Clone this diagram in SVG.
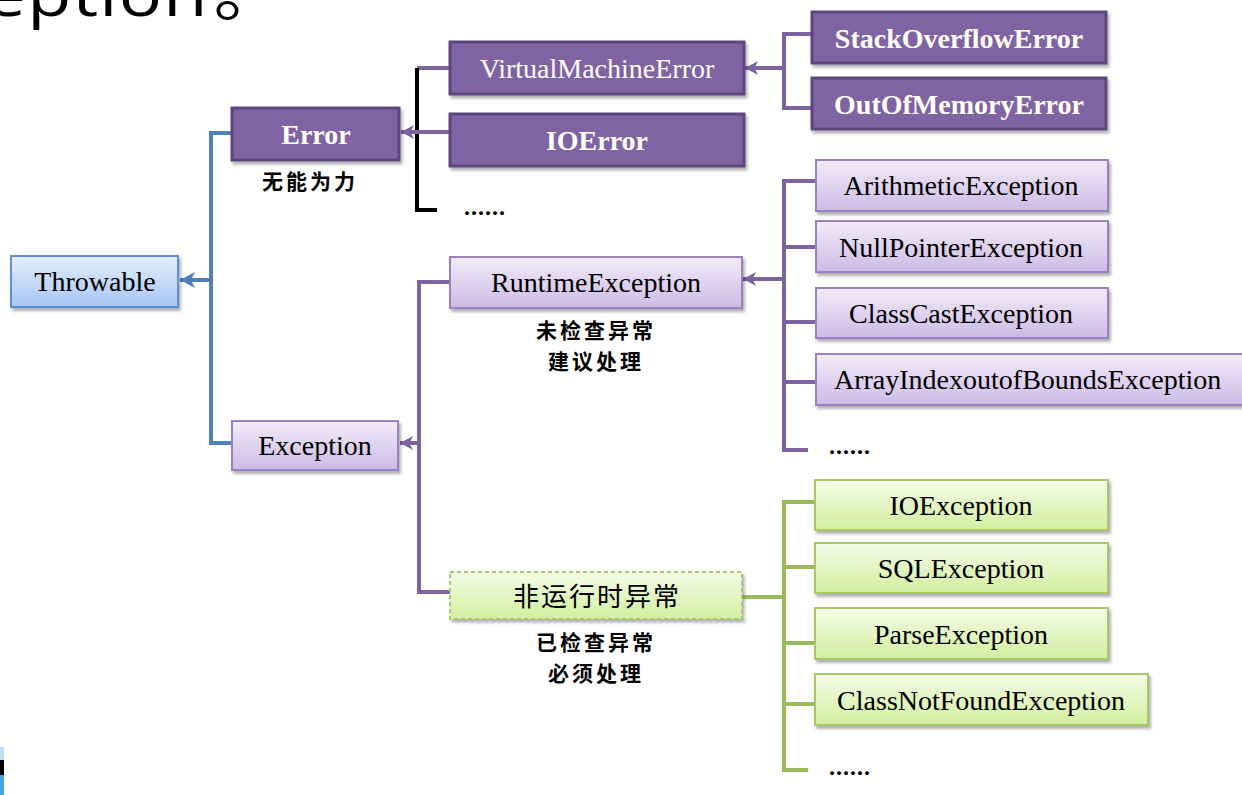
<svg xmlns="http://www.w3.org/2000/svg" width="1242" height="795" viewBox="0 0 1242 795">
<defs>
<linearGradient id="gBlue" x1="0" y1="0" x2="0" y2="1"><stop offset="0" stop-color="#e4eefc"/><stop offset="1" stop-color="#a6c6f4"/></linearGradient>
<linearGradient id="gPurple" x1="0" y1="0" x2="0" y2="1"><stop offset="0" stop-color="#f1ecf8"/><stop offset="1" stop-color="#ccbbe6"/></linearGradient>
<linearGradient id="gGreen" x1="0" y1="0" x2="0" y2="1"><stop offset="0" stop-color="#f4fbe8"/><stop offset="1" stop-color="#d2ef9f"/></linearGradient>
<filter id="sh" x="-10%" y="-20%" width="120%" height="150%"><feDropShadow dx="2" dy="3" stdDeviation="1.5" flood-color="#000" flood-opacity="0.3"/></filter>
<marker id="aBlue" markerUnits="userSpaceOnUse" markerWidth="18" markerHeight="18" refX="17" refY="9" orient="auto" viewBox="0 0 18 18"><path d="M17,9 L2,1 L6,9 L2,17 Z" fill="#4f81bd"/></marker>
<marker id="aPur" markerUnits="userSpaceOnUse" markerWidth="16" markerHeight="16" refX="15" refY="8" orient="auto" viewBox="0 0 16 16"><path d="M15,8 L2,1 L5.5,8 L2,15 Z" fill="#7e63a1"/></marker>
</defs>
<style>
.cb{fill:none;stroke:#4f81bd;stroke-width:4}
.cp{fill:none;stroke:#7e63a1;stroke-width:4}
.ck{fill:none;stroke:#000;stroke-width:4}
.cg{fill:none;stroke:#9bbb59;stroke-width:4}
.nBlue{fill:url(#gBlue);stroke:#5b8ed4;stroke-width:2;filter:url(#sh)}
.nDark{fill:#8064a2;stroke:#5c477c;stroke-width:3;filter:url(#sh)}
.nLight{fill:url(#gPurple);stroke:#9a80c0;stroke-width:2;filter:url(#sh)}
.nGreen{fill:url(#gGreen);stroke:#a4c86a;stroke-width:2;filter:url(#sh)}
.nDash{fill:url(#gGreen);stroke:#a4c86a;stroke-width:2;stroke-dasharray:4 3;filter:url(#sh)}
.t{font-family:"Liberation Serif","Times New Roman",serif;font-size:28px;fill:#000;text-anchor:middle}
.tw{font-family:"Liberation Serif","Times New Roman",serif;font-size:28px;fill:#fff;text-anchor:middle}
.twb{font-family:"Liberation Serif","Times New Roman",serif;font-size:28px;font-weight:bold;fill:#fff;text-anchor:middle}
.lab{font-family:"Noto Sans CJK SC",sans-serif;font-size:21px;font-weight:bold;fill:#000;text-anchor:middle;letter-spacing:3px}
.cn{font-family:"Noto Sans CJK SC",sans-serif;font-size:26px;fill:#000;text-anchor:middle;letter-spacing:2px}
.dots{font-family:"Liberation Serif",serif;font-size:24px;font-weight:bold;fill:#000;letter-spacing:1px}
</style>
<rect width="1242" height="795" fill="#fff"/>
<text transform="scale(1.2,1)" x="-12" y="16" font-family="'Open Sans','Noto Sans','Noto Sans CJK SC',sans-serif" font-size="60" letter-spacing="1" fill="#000">eption<tspan x="178">。</tspan></text>
<rect x="0" y="747" width="4" height="13" fill="#bfe0f0"/>
<rect x="0" y="760" width="4" height="15" fill="#000"/>
<rect x="0" y="775" width="4" height="20" fill="#4aa8d8"/>

<g id="connectors">
<path class="cb" d="M232,133 H211 V443 H232"/>
<path class="cb" d="M211,280 H180" marker-end="url(#aBlue)"/>
<path class="cp" d="M450,68 H417"/>
<path class="ck" d="M417,68 V210 H437"/>
<path class="cp" d="M450,132 H401" marker-end="url(#aPur)"/>
<path class="cp" d="M812,34 H784 V108 H812"/>
<path class="cp" d="M784,68 H745" marker-end="url(#aPur)"/>
<path class="cp" d="M450,282 H419 V592 H450"/>
<path class="cp" d="M419,443 H400" marker-end="url(#aPur)"/>
<path class="cp" d="M816,181 H784 V450 H808 M784,247 H816 M784,322 H816 M784,382 H816"/>
<path class="cp" d="M784,279 H743" marker-end="url(#aPur)"/>
<path class="cg" d="M742,597 H784"/>
<path class="cg" d="M815,502 H784 V770 H808 M784,567 H815 M784,643 H815 M784,704 H815"/>
</g>

<g id="throwable"><rect class="nBlue" x="11" y="256" width="167" height="51"/><text class="t" x="95" y="291">Throwable</text></g>
<g id="error"><rect class="nDark" x="232" y="108" width="167" height="52"/><text class="twb" x="316" y="144">Error</text><text class="lab" x="310" y="189">无能为力</text></g>
<g id="vme"><rect class="nDark" x="450" y="42" width="294" height="52"/><text class="tw" x="597" y="78">VirtualMachineError</text></g>
<g id="ioerror"><rect class="nDark" x="450" y="114" width="294" height="52"/><text class="twb" x="597" y="150">IOError</text></g>
<g id="error-more"><text class="dots" x="464" y="215">......</text></g>
<g id="stackoverflow"><rect class="nDark" x="812" y="12" width="294" height="51"/><text class="twb" x="959" y="48">StackOverflowError</text></g>
<g id="oom"><rect class="nDark" x="812" y="78" width="294" height="51"/><text class="twb" x="959" y="114">OutOfMemoryError</text></g>
<g id="exception"><rect class="nLight" x="232" y="421" width="166" height="49"/><text class="t" x="315" y="455">Exception</text></g>
<g id="runtime"><rect class="nLight" x="450" y="257" width="292" height="51"/><text class="t" x="596" y="292">RuntimeException</text><text class="lab" x="596" y="338">未检查异常</text><text class="lab" x="596" y="369">建议处理</text></g>
<g id="arith"><rect class="nLight" x="816" y="160" width="292" height="51"/><text class="t" x="961" y="195">ArithmeticException</text></g>
<g id="npe"><rect class="nLight" x="816" y="221" width="292" height="51"/><text class="t" x="961" y="257">NullPointerException</text></g>
<g id="cce"><rect class="nLight" x="816" y="288" width="292" height="50"/><text class="t" x="961" y="323">ClassCastException</text></g>
<g id="aioobe"><rect class="nLight" x="816" y="354" width="445" height="51"/><text class="t" x="834" y="389" style="text-anchor:start">ArrayIndexoutofBoundsException</text></g>
<g id="runtime-more"><text class="dots" x="829" y="454">......</text></g>
<g id="checked"><rect class="nDash" x="450" y="572" width="292" height="47"/><text class="cn" x="597" y="606">非运行时异常</text><text class="lab" x="596" y="650">已检查异常</text><text class="lab" x="596" y="681">必须处理</text></g>
<g id="ioe"><rect class="nGreen" x="815" y="480" width="293" height="50"/><text class="t" x="961" y="515">IOException</text></g>
<g id="sqle"><rect class="nGreen" x="815" y="543" width="293" height="50"/><text class="t" x="961" y="578">SQLException</text></g>
<g id="parsee"><rect class="nGreen" x="815" y="608" width="293" height="51"/><text class="t" x="961" y="644">ParseException</text></g>
<g id="cnfe"><rect class="nGreen" x="815" y="674" width="333" height="51"/><text class="t" x="981" y="710">ClassNotFoundException</text></g>
<g id="checked-more"><text class="dots" x="829" y="775">......</text></g>
</svg>
